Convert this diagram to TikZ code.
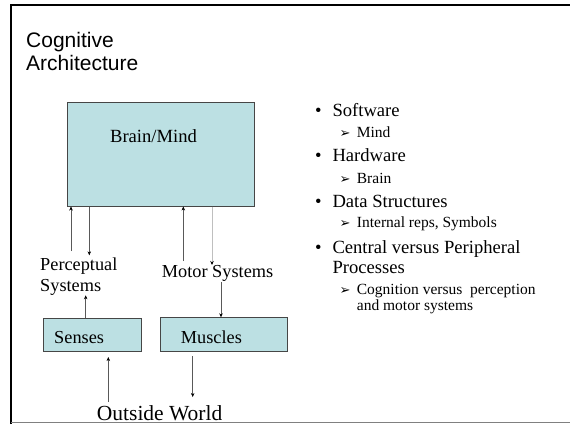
\documentclass[tikz,border=0pt]{standalone}
\usepackage{fontspec}
\setmainfont{Liberation Serif}
\newfontfamily\arialf{Liberation Sans}
\newfontfamily\dejavuf{DejaVu Sans}
\usetikzlibrary{arrows.meta}
\definecolor{boxfill}{RGB}{188,224,227}
\definecolor{boxline}{RGB}{70,70,70}
\tikzset{
  cbox/.style={draw=boxline, fill=boxfill, line width=0.8pt, inner sep=0pt, anchor=north west},
  txt/.style={anchor=base west, inner sep=0pt, font=\fontsize{18.3}{21}\selectfont, align=left},
  bul/.style={anchor=base west, inner sep=0pt, font=\fontsize{18.6}{20}\selectfont},
  sub/.style={anchor=base west, inner sep=0pt, font=\fontsize{15.5}{17}\selectfont},
  subarr/.style={anchor=base west, inner sep=0pt, font=\dejavuf\fontsize{13}{14}\selectfont},
  arr/.style={draw=black!65, line width=0.5pt, -{Stealth[length=4pt,width=3.5pt,color=black]}},
  arrlight/.style={draw=black!25, line width=0.8pt, -{Stealth[length=4pt,width=3.5pt,color=black]}}
}
\begin{document}
\begin{tikzpicture}[x=1pt,y=-1pt]
\useasboundingbox (0,0) rectangle (570,424);
% frame
\draw[line width=2pt] (11,424) -- (11,5) -- (570,5);
\draw[black!50, line width=1pt] (11,422.5) -- (570,422.5);
% title (base anchor = last line)
\node[anchor=base west, inner sep=0pt, font=\arialf\fontsize{21}{23.7}\selectfont, align=left] (title) at (26,70.7) {Cognitive\\Architecture};
% boxes
\node[cbox, minimum width=187.3pt, minimum height=103.7pt] (brain) at (66.7,102) {};
\node[anchor=base, inner sep=0pt, font=\fontsize{18.6}{21}\selectfont] (brainlbl) at (153.5,142) {Brain/Mind};
\node[cbox, minimum width=98.6pt, minimum height=33pt] (senses) at (42.7,318) {};
\node[txt] (senseslbl) at (54,343.7) {Senses};
\node[cbox, minimum width=126.7pt, minimum height=33.7pt] (muscles) at (160,317.3) {};
\node[txt] (muscleslbl) at (180.7,343.7) {Muscles};
% labels
\node[txt] (percep) at (40,291) {Perceptual\\Systems};
\node[txt] (motor) at (161.7,277) {Motor Systems};
\node[anchor=base west, inner sep=0pt, font=\fontsize{21.5}{24}\selectfont] (world) at (96.7,420.3) {Outside World};
% coordinates for connector ends
\coordinate (pu) at (71,251);
\coordinate (pd) at (89.3,255.3);
\coordinate (ps) at (85.7,295.3);
\coordinate (mu) at (183.3,261);
\coordinate (md) at (212,265);
\coordinate (mm) at (221,282);
\coordinate (wu) at (108.3,402);
\coordinate (wd) at (192.7,397);
% connectors
\draw[arr] (pu) -- (pu |- brain.south);
\draw[arr] (pd |- brain.south) -- (pd);
\draw[arr] (ps |- senses.north) -- (ps);
\draw[arr] (mu) -- (mu |- brain.south);
\draw[arrlight] (md |- brain.south) -- (md);
\draw[arr] (mm) -- (mm |- muscles.north);
\draw[arr] (wu) -- (wu |- 0,357);
\draw[arr] (wd |- 0,356) -- (wd);
% bullets
\node[bul] (b1) at (315,116) {•};
\node[bul] (t1) at (332.3,116) {Software};
\node[subarr] (a1) at (339.5,137.3) {➢};
\node[sub] (s1) at (356.7,137.3) {Mind};
\node[bul] (b2) at (315,161.7) {•};
\node[bul] (t2) at (332.3,161.7) {Hardware};
\node[subarr] (a2) at (339.5,183.3) {➢};
\node[sub] (s2) at (356.7,183.3) {Brain};
\node[bul] (b3) at (315,207.7) {•};
\node[bul] (t3) at (332.3,207.7) {Data Structures};
\node[subarr] (a3) at (339.5,227.7) {➢};
\node[sub] (s3) at (356.7,227.7) {Internal reps, Symbols};
\node[bul] (b4) at (315,253.3) {•};
\node[bul] (t4) at (332.3,253.3) {Central versus Peripheral};
\node[bul] (t4b) at (332.3,273.3) {Processes};
\node[subarr] (a4) at (339.5,294) {➢};
\node[sub] (s4) at (356.7,294) {Cognition versus\ \ perception};
\node[sub] (s4b) at (356.7,310.7) {and motor systems};
\end{tikzpicture}
\end{document}
